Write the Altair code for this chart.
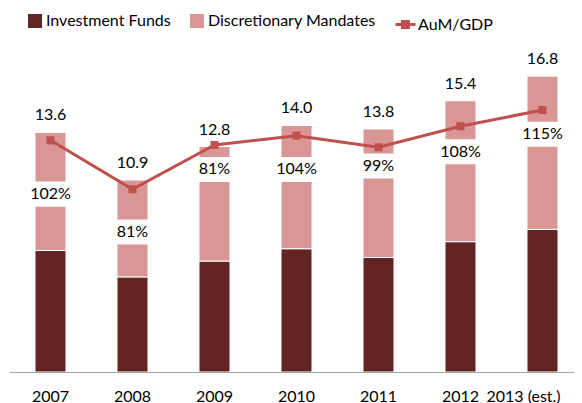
import altair as alt
import pandas as pd

# ---- data ----
years = ["2007", "2008", "2009", "2010", "2011", "2012", "2013 (est.)"]
investment_funds = [6.9, 5.4, 6.3, 7.0, 6.5, 7.4, 8.1]
discretionary_mandates = [6.7, 5.5, 6.5, 7.0, 7.3, 8.0, 8.7]
aum_gdp = [102, 81, 100, 104, 99, 108, 115]          # line points as drawn
aum_gdp_labels = ["102%", "81%", "81%", "104%", "99%", "108%", "115%"]
pct_label_level = [10.1, 7.95, 11.5, 11.5, 11.7, 12.5, 13.5]  # label anchor, bar units

series_names = ["Investment Funds", "Discretionary Mandates"]
line_name = "AuM/GDP"

FONT = "Lato"
DARK = "#632523"
PINK = "#D99694"
RED = "#C0504D"

rows = []
for i, y in enumerate(years):
    rows.append({"year": y, "series": series_names[0], "value": investment_funds[i], "ord": 0})
    rows.append({"year": y, "series": series_names[1], "value": discretionary_mandates[i], "ord": 1})
bars_df = pd.DataFrame(rows)

tot_df = pd.DataFrame({
    "year": years,
    "total": [a + b for a, b in zip(investment_funds, discretionary_mandates)],
    "aum": aum_gdp,
    "pct": aum_gdp_labels,
    "lab": pct_label_level,
    "line": [line_name] * len(years),
})
tot_df["total_label"] = tot_df["total"].map(lambda v: f"{v:.1f}")

xscale = alt.Scale(domain=years, range=[1.5, 575.5], paddingInner=0, paddingOuter=0)
x_axis = alt.X(
    "year:N", sort=years, scale=xscale, title=None,
    axis=alt.Axis(
        labelAngle=0, ticks=False, labelFont=FONT, labelFontSize=16, labelColor="#000000",
        labelPadding=16, domainColor="#A6A6A6", domainWidth=1, grid=False, zindex=1,
        labelOffset=alt.ExprRef(expr="datum.value == '2013 (est.)' ? -19 : 0"),
    ),
)

yscale = alt.Scale(domain=[0, 18], nice=False, zero=True)

bars = alt.Chart(bars_df).mark_bar(size=31, stroke="white", strokeWidth=1).encode(
    x=x_axis,
    y=alt.Y("value:Q", stack="zero", scale=yscale, axis=None),
    color=alt.Color(
        "series:N",
        scale=alt.Scale(domain=series_names, range=[DARK, PINK]),
        legend=alt.Legend(
            orient="none", legendX=19, legendY=-42, direction="horizontal", columns=2,
            title=None, symbolType="square", symbolSize=196, symbolStrokeWidth=0,
            labelFont=FONT, labelFontSize=16, labelColor="#000000", labelOffset=3,
            labelLimit=400, columnPadding=18, padding=0,
        ),
    ),
    order=alt.Order("ord:Q"),
)

boxes = alt.Chart(tot_df).transform_calculate(
    y0="datum.lab - 0.71", y1="datum.lab + 0.71", bw="length(datum.pct) * 6 + 16"
).mark_bar(color="white").encode(
    x=x_axis,
    y=alt.Y("y0:Q", scale=yscale, axis=None),
    y2="y1:Q",
    size=alt.Size("bw:Q", scale=None, legend=None),
)

pct_text = alt.Chart(tot_df).mark_text(
    font=FONT, fontSize=16, color="#000000", baseline="middle"
).encode(
    x=x_axis,
    y=alt.Y("lab:Q", scale=yscale, axis=None),
    text="pct:N",
)

totals = alt.Chart(tot_df).mark_text(
    font=FONT, fontSize=16, color="#000000", baseline="middle", dy=-17
).encode(
    x=x_axis,
    y=alt.Y("total:Q", scale=yscale, axis=None),
    text="total_label:N",
)

line_scale = alt.Scale(domain=[2.6, 138.6], nice=False, zero=False)

line = alt.Chart(tot_df).mark_line(strokeWidth=3).encode(
    x=x_axis,
    y=alt.Y("aum:Q", scale=line_scale, axis=None),
    stroke=alt.Stroke(
        "line:N",
        scale=alt.Scale(domain=[line_name], range=[RED]),
        legend=alt.Legend(
            orient="none", legendX=386, legendY=-42, title=None,
            symbolType="M-1,0L1,0M-0.3,-0.3L0.3,-0.3L0.3,0.3L-0.3,0.3Z",
            symbolSize=400, symbolStrokeWidth=3, symbolFillColor=RED,
            labelFont=FONT, labelFontSize=16, labelColor="#000000", labelOffset=1,
            labelLimit=400, padding=0,
        ),
    ),
)

points = alt.Chart(tot_df).mark_point(
    shape="square", filled=True, size=64, color=RED, opacity=1
).encode(
    x=x_axis,
    y=alt.Y("aum:Q", scale=line_scale, axis=None),
)

chart = alt.layer(bars, boxes, pct_text, totals, line, points).resolve_scale(
    y="independent"
).properties(
    width=566, height=317,
    padding={"left": 0, "top": 47, "right": 0, "bottom": 31},
    autosize=alt.AutoSizeParams(type="none"),
).configure_view(stroke=None)

chart.save("out.html", embed_options={"renderer": "svg", "actions": False})
